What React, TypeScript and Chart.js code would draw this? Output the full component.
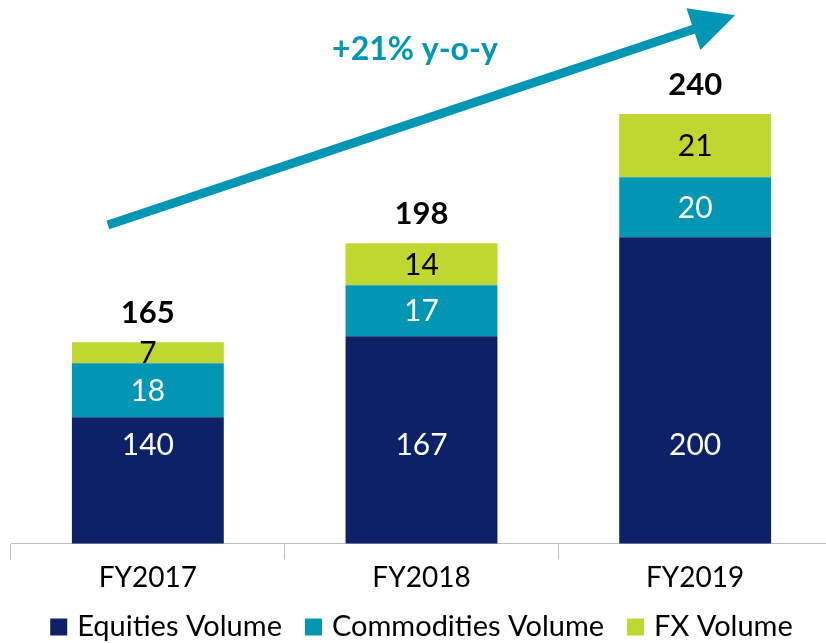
import React, { useEffect, useRef } from "react";
import { Chart, registerables } from "chart.js";

Chart.register(...registerables);

const categories = ["FY2017", "FY2018", "FY2019"];
const equities = [140, 167, 200];
const commodities = [18, 17, 20];
const fx = [7, 14, 21];
const totals = [165, 198, 240];
const seriesNames = ["Equities Volume", "Commodities Volume", "FX Volume"];
const growthLabel = "+21% y-o-y";

const AXIS_MIN = 98;
const AXIS_MAX = 279;
const EQUITY_LABEL_LEVEL = 131;

const NAVY = "#0c2168";
const TEAL = "#0096b4";
const LIME = "#bfd730";
const FONT = "Lato";

const labelsPlugin = {
  id: "labelsPlugin",
  afterDatasetsDraw(chart: any) {
    const ctx = chart.ctx;
    const y = chart.scales.y;
    ctx.save();
    ctx.textAlign = "center";
    ctx.textBaseline = "middle";
    const segColors = ["#ffffff", "#ffffff", "#000000"];
    chart.data.datasets.forEach((ds: any, di: number) => {
      const meta = chart.getDatasetMeta(di);
      meta.data.forEach((bar: any, i: number) => {
        ctx.font = `30px ${FONT}`;
        ctx.fillStyle = segColors[di];
        let cy;
        if (di === 0) cy = y.getPixelForValue(EQUITY_LABEL_LEVEL);
        else cy = (bar.y + bar.base) / 2;
        ctx.fillText(String(ds.data[i]), bar.x, cy + 1);
      });
    });
    const top = chart.getDatasetMeta(2);
    top.data.forEach((bar: any, i: number) => {
      ctx.font = `bold 31px ${FONT}`;
      ctx.fillStyle = "#000000";
      ctx.fillText(String(totals[i]), bar.x, bar.y - 29);
    });

    // growth arrow
    const area = chart.chartArea;
    const w = area.right - area.left;
    const h = area.bottom - area.top;
    const x0 = area.left + w * 0.118;
    const y0 = area.top + h * 0.414;
    const x1 = area.left + w * 0.882;
    const y1 = area.top + h * 0.028;
    const ang = Math.atan2(y1 - y0, x1 - x0);
    const headLen = 44;
    const headHalf = 22;
    const bx = x1 - Math.cos(ang) * headLen;
    const by = y1 - Math.sin(ang) * headLen;
    ctx.strokeStyle = TEAL;
    ctx.fillStyle = TEAL;
    ctx.lineWidth = 9;
    ctx.beginPath();
    ctx.moveTo(x0, y0);
    ctx.lineTo(bx + Math.cos(ang) * 4, by + Math.sin(ang) * 4);
    ctx.stroke();
    ctx.beginPath();
    ctx.moveTo(x1, y1);
    ctx.lineTo(bx - Math.sin(ang) * headHalf, by + Math.cos(ang) * headHalf);
    ctx.lineTo(bx + Math.sin(ang) * headHalf, by - Math.cos(ang) * headHalf);
    ctx.closePath();
    ctx.fill();

    ctx.font = `bold 32px ${FONT}`;
    ctx.fillStyle = TEAL;
    ctx.fillText(growthLabel, area.left + w * 0.492, area.top + h * 0.092);

    // legend
    const colors = [NAVY, TEAL, LIME];
    ctx.font = `29px ${FONT}`;
    const box = 17;
    const gapText = 10;
    const gapItem = 23;
    const widths = seriesNames.map((s) => ctx.measureText(s).width);
    const total =
      widths.reduce((a, b) => a + b, 0) + seriesNames.length * (box + gapText) + gapItem * (seriesNames.length - 1);
    let lx = (area.left + area.right) / 2 - total / 2;
    const ly = chart.height - 16;
    ctx.textAlign = "left";
    seriesNames.forEach((s, i) => {
      ctx.fillStyle = colors[i];
      ctx.fillRect(lx, ly - box / 2, box, box);
      ctx.fillStyle = "#000000";
      ctx.fillText(s, lx + box + gapText, ly);
      lx += box + gapText + widths[i] + gapItem;
    });
    ctx.restore();
  },
};

export default function App() {
  const ref = useRef<HTMLCanvasElement>(null);
  useEffect(() => {
    document.body.style.margin = "0";
    document.body.style.overflow = "hidden";
    const chart = new Chart(ref.current!, {
      type: "bar",
      data: {
        labels: categories,
        datasets: [
          { label: seriesNames[0], data: equities, backgroundColor: NAVY },
          { label: seriesNames[1], data: commodities, backgroundColor: TEAL },
          { label: seriesNames[2], data: fx, backgroundColor: LIME },
        ],
      },
      options: {
        animation: false,
        responsive: false,
        maintainAspectRatio: false,
        layout: { padding: { left: 11, right: 0, top: 0, bottom: 46 } },
        datasets: { bar: { barPercentage: 0.555, categoryPercentage: 1, borderWidth: 0 } },
        scales: {
          x: {
            stacked: true,
            grid: {
              display: true,
              offset: true,
              drawOnChartArea: false,
              drawTicks: true,
              tickLength: 16,
              color: "#bfbfbf",
            },
            border: { display: true, color: "#bfbfbf", width: 1 },
            ticks: { color: "#000000", font: { family: FONT, size: 28 }, padding: 2 },
          },
          y: {
            stacked: true,
            display: false,
            min: AXIS_MIN,
            max: AXIS_MAX,
          },
        },
        plugins: {
          legend: { display: false },
          tooltip: { enabled: false },
        },
      },
      plugins: [labelsPlugin],
    });
    return () => chart.destroy();
  }, []);
  return (
    <div style={{ width: 826, height: 643, overflow: "hidden" }}>
      <canvas ref={ref} width={832} height={643} style={{ display: "block" }} />
    </div>
  );
}
